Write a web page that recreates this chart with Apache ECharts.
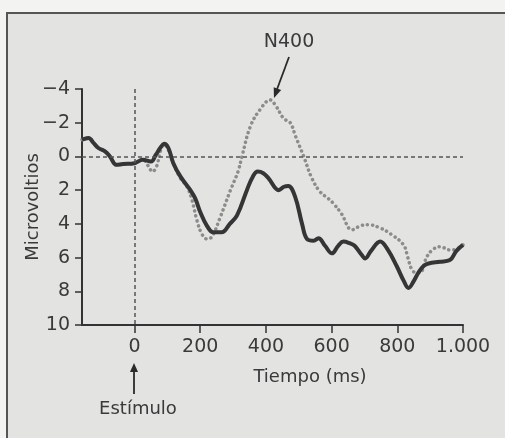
<!DOCTYPE html>
<html>
<head>
<meta charset="utf-8">
<script src="https://cdn.jsdelivr.net/npm/echarts@6/dist/echarts.min.js"></script>
<style>
  html, body { margin: 0; padding: 0; background: #f3f3f1; }
  #main { width: 505px; height: 438px; }
</style>
</head>
<body>
<div id="main"></div>
<script>
// tiempo (ms) y microvoltios
var solidPts = [
  [-160,-1.0],[-140,-1.1],[-125,-0.8],[-110,-0.5],[-90,-0.3],[-75,0],[-55,0.5],[-35,0.45],
  [0,0.4],[25,0.2],[50,0.3],[65,-0.1],[78,-0.5],[90,-0.75],[103,-0.5],[118,0.4],[140,1.2],
  [170,2.0],[185,2.5],[200,3.3],[220,4.1],[240,4.5],[265,4.5],[290,4.0],[312,3.5],[342,2.0],
  [360,1.2],[375,0.9],[392,1.0],[408,1.3],[439,2.0],[455,1.8],[468,1.75],[489,2.4],[510,4.0],
  [525,4.9],[545,5.0],[560,4.85],[580,5.3],[601,5.75],[620,5.3],[636,5.05],[655,5.15],[670,5.3],
  [690,5.8],[702,6.05],[720,5.6],[748,5.05],[770,5.5],[798,6.5],[820,7.4],[834,7.8],[850,7.4],
  [864,6.9],[880,6.5],[895,6.35],[930,6.25],[960,6.15],[980,5.6],[1000,5.25]
];
var dottedPts = [
  [-160,-1.0],[-140,-1.1],[-125,-0.8],[-110,-0.5],[-90,-0.3],[-75,0],[-55,0.5],[-35,0.45],
  [0,0.4],[25,0.2],[43,0.6],[54,0.9],[67,0.6],[80,-0.4],[90,-0.7],[105,-0.3],[120,0.5],
  [140,1.3],[160,1.8],[175,2.6],[190,3.8],[205,4.6],[221,4.9],[236,4.75],[261,3.6],[292,2.0],
  [315,0.9],[327,0],[353,-1.8],[383,-2.8],[413,-3.35],[430,-3.0],[454,-2.25],[474,-2.0],
  [490,-1.2],[515,0],[540,1.3],[565,2.1],[590,2.5],[606,2.8],[630,3.4],[662,4.35],[690,4.1],
  [712,4.05],[748,4.25],[780,4.6],[819,5.25],[832,6.0],[844,6.7],[858,6.9],[869,6.9],
  [890,5.95],[910,5.5],[930,5.35],[960,5.55],[980,5.5],[1000,5.25]
];
var xTicks = [0, 200, 400, 600, 800, 1000];
var xTickLabels = ['0', '200', '400', '600', '800', '1.000'];

var ink = '#3a3a3a';
var font = 'DejaVu Sans';

function arrowHead(x0, y0, x1, y1, len, half) {
  var dx = x1 - x0, dy = y1 - y0;
  var d = Math.sqrt(dx * dx + dy * dy);
  var ux = dx / d, uy = dy / d;
  var bx = x1 - ux * len, by = y1 - uy * len;
  return [[x1, y1], [bx - uy * half, by + ux * half], [bx + uy * half, by - ux * half]];
}

var myChart = echarts.init(document.getElementById('main'));
var option = {
  backgroundColor: '#e3e3e1',
  animation: false,
  grid: { left: 82, right: 42, top: 89, bottom: 113 },
  xAxis: {
    type: 'value',
    min: -160,
    max: 1000,
    axisLine: { onZero: false, lineStyle: { color: '#333', width: 2 } },
    axisTick: { customValues: xTicks, length: 8, lineStyle: { color: '#333', width: 1.5 } },
    axisLabel: {
      customValues: xTicks,
      margin: 13,
      color: ink,
      fontFamily: font,
      fontSize: 19,
      formatter: function (v) { return xTickLabels[xTicks.indexOf(v)]; }
    },
    splitLine: { show: false }
  },
  yAxis: {
    type: 'value',
    inverse: true,
    min: -4,
    max: 10,
    interval: 2,
    name: 'Microvoltios',
    nameLocation: 'middle',
    nameRotate: 90,
    nameGap: 40,
    nameMoveOverlap: false,
    nameTextStyle: { color: ink, fontFamily: font, fontSize: 18 },
    axisLine: { show: true, onZero: false, lineStyle: { color: '#333', width: 2 } },
    axisTick: { show: true, length: 7, lineStyle: { color: '#333', width: 1.5 } },
    axisLabel: {
      margin: 12,
      color: ink,
      fontFamily: font,
      fontSize: 19,
      formatter: function (v) { return v < 0 ? '\u2212' + (-v) : String(v); }
    },
    splitLine: { show: false }
  },
  series: [
    {
      type: 'line',
      data: dottedPts,
      smooth: 0.4,
      showSymbol: false,
      z: 2,
      lineStyle: { color: '#8c8c8c', width: 3.5, type: [0.1, 5], cap: 'round' },
      markLine: {
        silent: true,
        symbol: 'none',
        label: { show: false },
        lineStyle: { color: '#555', width: 1.5, type: [4, 3] },
        data: [{ yAxis: 0 }, { xAxis: 0 }]
      }
    },
    {
      type: 'line',
      data: solidPts,
      smooth: 0.4,
      showSymbol: false,
      z: 3,
      lineStyle: { color: '#353535', width: 4 }
    }
  ],
  graphic: [
    { type: 'rect', shape: { x: 0, y: 0, width: 505, height: 12 }, style: { fill: '#f3f3f1' } },
    { type: 'rect', shape: { x: 0, y: 0, width: 6, height: 438 }, style: { fill: '#f3f3f1' } },
    { type: 'line', shape: { x1: 6, y1: 13, x2: 505, y2: 13 }, style: { stroke: '#555', lineWidth: 2 } },
    { type: 'line', shape: { x1: 7, y1: 13, x2: 7, y2: 438 }, style: { stroke: '#555', lineWidth: 2 } },
    { type: 'text', x: 289, y: 42, style: { text: 'N400', fill: ink, font: '19px "DejaVu Sans"', textAlign: 'center', textVerticalAlign: 'middle' } },
    { type: 'line', shape: { x1: 289, y1: 57, x2: 276, y2: 92 }, style: { stroke: '#2a2a2a', lineWidth: 1.8 } },
    { type: 'polygon', shape: { points: arrowHead(289, 57, 274, 98, 10, 4) }, style: { fill: '#2a2a2a' } },
    { type: 'line', shape: { x1: 134, y1: 394, x2: 134, y2: 370 }, style: { stroke: '#2a2a2a', lineWidth: 1.8 } },
    { type: 'polygon', shape: { points: arrowHead(134, 394, 134, 363, 9, 4) }, style: { fill: '#2a2a2a' } },
    { type: 'text', x: 138, y: 409, style: { text: 'Estímulo', fill: ink, font: '18px "DejaVu Sans"', textAlign: 'center', textVerticalAlign: 'middle' } },
    { type: 'text', x: 310, y: 377, style: { text: 'Tiempo (ms)', fill: ink, font: '18px "DejaVu Sans"', textAlign: 'center', textVerticalAlign: 'middle' } }
  ]
};
myChart.setOption(option);
</script>
</body>
</html>
